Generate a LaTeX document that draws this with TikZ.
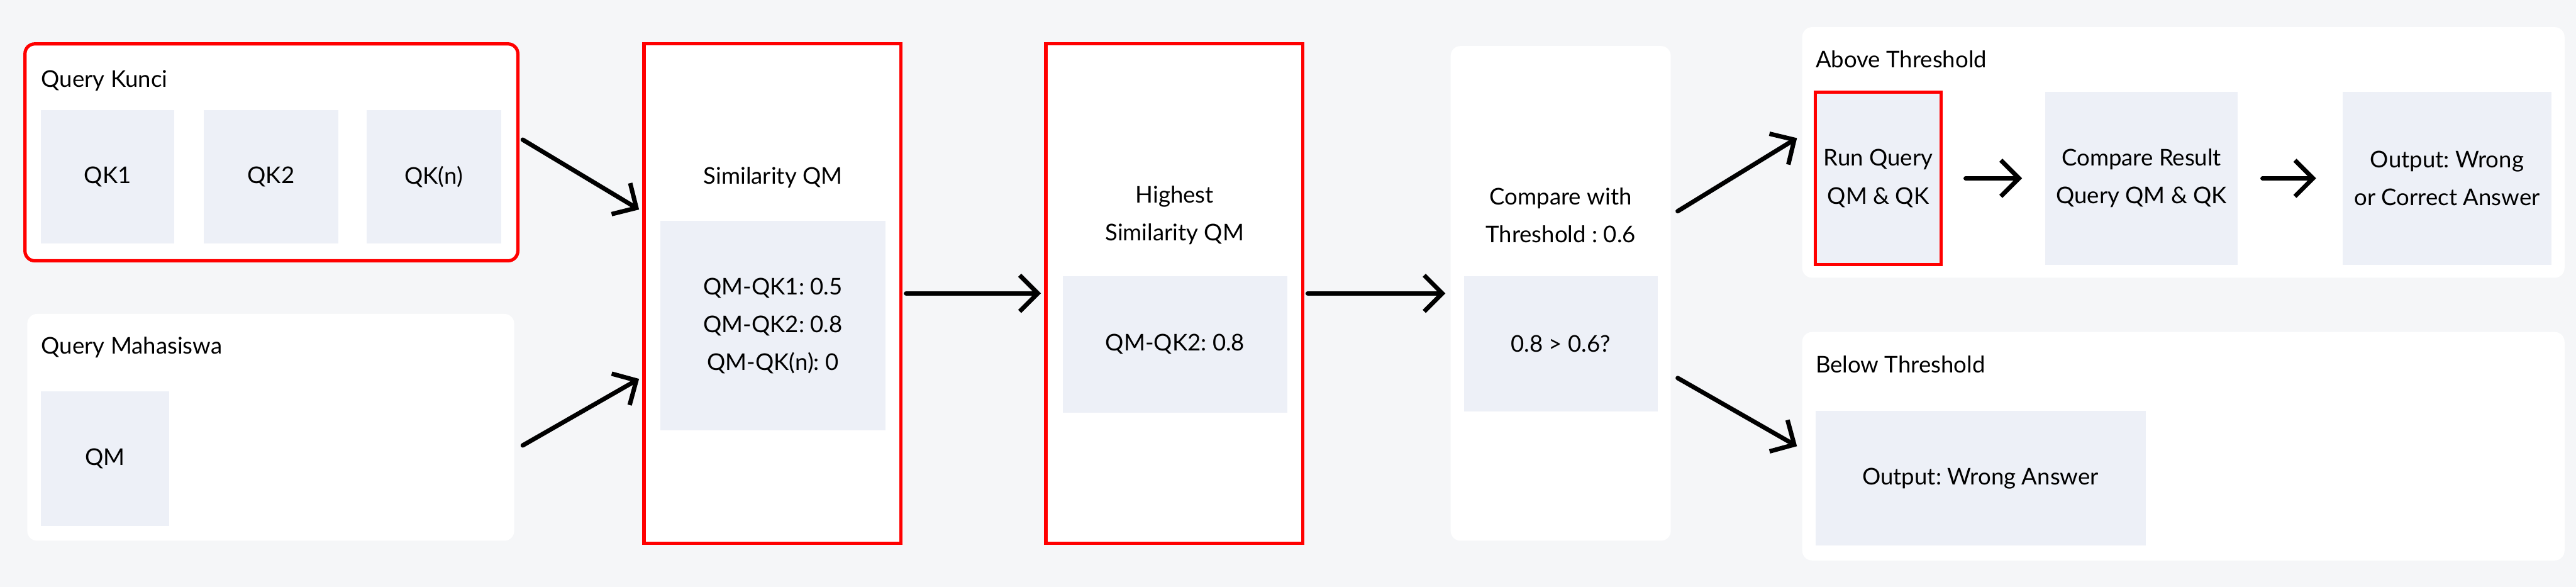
\documentclass[tikz,border=0pt]{standalone}
\usepackage{fontspec}
\setmainfont{Lato}
\usetikzlibrary{arrows.meta}
\definecolor{bgcol}{HTML}{F5F6F8}
\definecolor{boxcol}{HTML}{EDF0F7}
\definecolor{redcol}{HTML}{FF0000}
\frenchspacing
\tikzset{
	panel/.style={fill=white, rounded corners=6pt, inner sep=0pt},
	inbox/.style={fill=boxcol, inner sep=0pt, align=center},
	redframe/.style={draw=redcol, line width=2pt},
	title/.style={inner sep=0pt, align=center},
	arr/.style={-{Straight Barb[length=11pt,width=22pt]}, line width=2.7pt, line cap=round},
}

\begin{document}
\begin{tikzpicture}[x=1pt, y=-1pt, font=\fontsize{14}{23}\selectfont]
		%%%%% START %%%%%
		
		\fill[bgcol] (0, 0) rectangle (1568, 357);
		\useasboundingbox (0, 0) rectangle (1568, 357);
		
		% query kunci
		\node[panel, redframe, minimum width=300pt, minimum height=132pt] (kunci) at (165.2, 92.7) {};
		\node[title, anchor=base west] at (25, 53) {Query Kunci};
		\node[inbox, minimum width=81pt, minimum height=81pt] (qkone) at (65.5, 107.5) {QK1};
		\node[inbox, minimum width=82pt, minimum height=81pt] (qktwo) at (165, 107.5) {QK2};
		\node[inbox, minimum width=82pt, minimum height=81pt] (qkn) at (264, 107.5) {QK(n)};
		
		% query mahasiswa
		\node[panel, minimum width=296.4pt, minimum height=138pt] (mhs) at (164.8, 260) {};
		\node[title, anchor=base west] at (25, 215.5) {Query Mahasiswa};
		\node[inbox, minimum width=78pt, minimum height=82pt] (qm) at (64, 279) {QM};
		
		% similarity
		\node[fill=white, redframe, minimum width=156.5pt, minimum height=304pt] (sim) at (470.25, 178.5) {};
		\node[title, anchor=base] at (470.5, 112) {Similarity QM};
		\node[inbox, minimum width=137pt, minimum height=127.5pt] (simval) at (470.5, 198.25) {QM-QK1: 0.5\\QM-QK2: 0.8\\QM-QK(n): 0};
		
		% highest similarity
		\node[fill=white, redframe, minimum width=156.4pt, minimum height=304pt] (high) at (714.8, 178.5) {};
		\node[title] at (715, 131) {Highest\\Similarity QM};
		\node[inbox, minimum width=136.5pt, minimum height=83pt] (highval) at (715.25, 209.5) {QM-QK2: 0.8};
		
		% threshold check
		\node[panel, minimum width=134pt, minimum height=301pt] (cmp) at (950, 178.5) {};
		\node[title] at (950, 131) {Compare with\\Threshold : 0.6};
		\node[inbox, minimum width=118pt, minimum height=82.5pt] (cmpval) at (950, 209.25) {0.8 > 0.6?};
		
		% above threshold
		\node[panel, minimum width=464pt, minimum height=152.5pt] (above) at (1329, 92.75) {};
		\node[title, anchor=base west] at (1105, 41.3) {Above Threshold};
		\node[inbox, redframe, minimum width=76.5pt, minimum height=105pt] (run) at (1143.25, 108.5) {Run Query\\QM \& QK};
		\node[inbox, minimum width=117pt, minimum height=105pt] (cres) at (1303.5, 108.5) {Compare Result\\Query QM \& QK};
		\node[inbox, minimum width=127pt, minimum height=105pt] (outab) at (1489.5, 108.5) {Output: Wrong\\or Correct Answer};
		
		% below threshold
		\node[panel, minimum width=464pt, minimum height=139pt] (below) at (1329, 271.5) {};
		\node[title, anchor=base west] at (1105, 227) {Below Threshold};
		\node[inbox, minimum width=201pt, minimum height=82pt] (outbl) at (1205.5, 291) {Output: Wrong Answer};
		
		% arrows
		\draw[arr] ([xshift=2pt, yshift=7.7pt]kunci.east) -- ([xshift=-2pt, yshift=51pt]sim.west);
		\draw[arr] ([xshift=5pt, yshift=-11pt]mhs.east) -- ([xshift=-2pt, yshift=-52pt]sim.west);
		\draw[arr, shorten <=2pt, shorten >=2pt] (sim.east) -- (high.west);
		\draw[arr, shorten <=2pt, shorten >=3pt] (high.east) -- (cmp.west);
		\draw[arr] ([xshift=4pt, yshift=50pt]cmp.east) -- ([xshift=-3pt, yshift=8.75pt]above.west);
		\draw[arr] ([xshift=4pt, yshift=-51.5pt]cmp.east) -- ([xshift=-3pt]below.west);
		\draw[arr, shorten <=14pt, shorten >=14pt] (run) -- (cres);
		\draw[arr, shorten <=15pt, shorten >=16pt] (cres) -- (outab);
		
		%%%%% END %%%%%
	\end{tikzpicture}
\end{document}
